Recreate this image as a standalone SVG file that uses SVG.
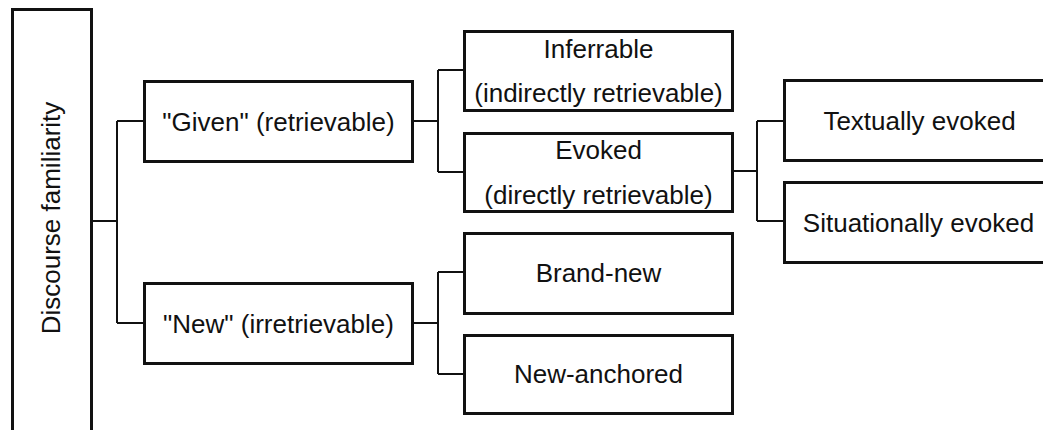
<svg xmlns="http://www.w3.org/2000/svg" width="1043" height="430" viewBox="0 0 1043 430">
<style>
.box{fill:#fff;stroke:#111;stroke-width:3}
.lbl{font-family:"Liberation Sans",Arial,sans-serif;font-size:26px;fill:#111;text-anchor:middle}
.conn{fill:none;stroke:#111;stroke-width:2}
</style>
<rect width="1043" height="430" fill="#fff"/>
<g id="connectors">
<path class="conn" d="M91,221 H117 M117,121 V323 M117,121 H144 M117,323 H144"/>
<path class="conn" d="M413,121 H438 M438,70 V172 M438,70 H464 M438,172 H464"/>
<path class="conn" d="M413,323 H438 M438,272 V374 M438,272 H464 M438,374 H464"/>
<path class="conn" d="M733,171 H757 M757,121 V221 M757,121 H784 M757,221 H784"/>
</g>
<g id="discourse">
<rect class="box" x="12.5" y="9.5" width="79" height="440"/>
<text class="lbl" transform="translate(59.5,218) rotate(-90)">Discourse familiarity</text>
</g>
<g id="given">
<rect class="box" x="144.5" y="81.5" width="268" height="80"/>
<text class="lbl" x="278.5" y="130.5">"Given" (retrievable)</text>
</g>
<g id="new">
<rect class="box" x="144.5" y="283.5" width="268" height="80"/>
<text class="lbl" x="278.5" y="332.5">"New" (irretrievable)</text>
</g>
<g id="inferrable">
<rect class="box" x="464.5" y="31.5" width="268" height="79"/>
<text class="lbl" x="598.5" y="57.5">Inferrable</text>
<text class="lbl" x="598.5" y="101.5">(indirectly retrievable)</text>
</g>
<g id="evoked">
<rect class="box" x="464.5" y="133.5" width="268" height="78"/>
<text class="lbl" x="598.5" y="158.5">Evoked</text>
<text class="lbl" x="598.5" y="203.5">(directly retrievable)</text>
</g>
<g id="brandnew">
<rect class="box" x="464.5" y="233.5" width="268" height="80"/>
<text class="lbl" x="598.5" y="282">Brand-new</text>
</g>
<g id="newanchored">
<rect class="box" x="464.5" y="335.5" width="268" height="78"/>
<text class="lbl" x="598.5" y="383">New-anchored</text>
</g>
<g id="textually">
<rect class="box" x="784.5" y="80.5" width="270" height="80"/>
<text class="lbl" x="919.5" y="130">Textually evoked</text>
</g>
<g id="situationally">
<rect class="box" x="784.5" y="182.5" width="270" height="80"/>
<text class="lbl" x="918.5" y="232">Situationally evoked</text>
</g>
</svg>
